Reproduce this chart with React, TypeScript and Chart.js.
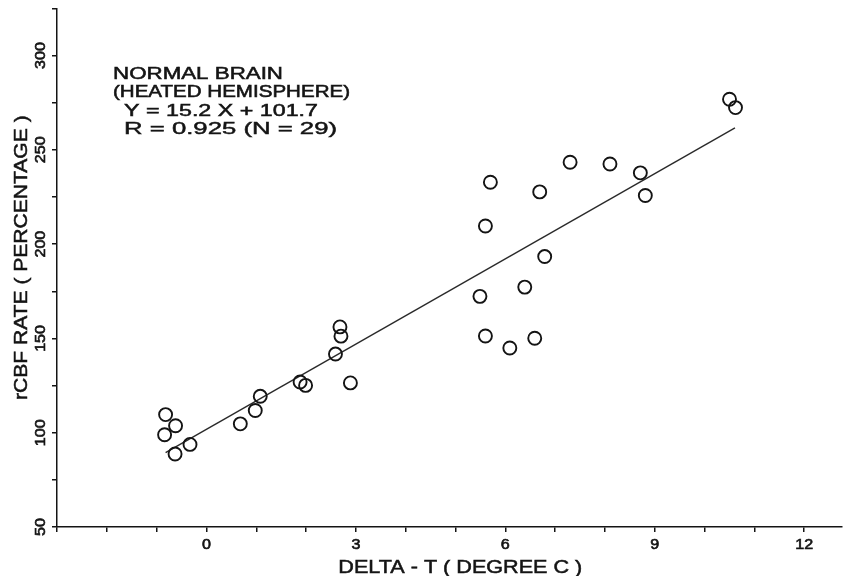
import React, { useEffect, useRef } from "react";
import { Chart, registerables } from "chart.js";

Chart.register(...registerables);

// Measured points (Delta-T in degree C, rCBF rate in percentage)
const deltaT: number[] = [
  -0.82, -0.84, -0.62, -0.63, -0.33, 0.68, 0.98, 1.08, 1.88, 1.99,
  2.59, 2.7, 2.68, 2.89, 5.49, 5.6, 5.6, 5.7, 6.09, 6.39,
  6.59, 6.69, 6.79, 7.3, 8.1, 8.71, 8.81, 10.5, 10.62,
];
const rcbf: number[] = [
  109.6, 98.9, 103.7, 88.7, 93.8, 104.7, 111.8, 119.3, 126.9, 125.1,
  141.7, 151.2, 156.1, 126.4, 172.3, 151.3, 209.6, 232.8, 144.9, 177.2,
  150.1, 227.7, 193.4, 243.4, 242.5, 237.8, 225.8, 276.8, 272.4,
];

// Regression line end points
const fitX: number[] = [-0.82, 10.61];
const fitY: number[] = [89.4, 261.7];

const xLabelTicks: number[] = [0, 3, 6, 9, 12];
const yLabelTicks: number[] = [50, 100, 150, 200, 250, 300];

const xTitle = "DELTA - T ( DEGREE C )";
const yTitle = "rCBF RATE ( PERCENTAGE )";
const noteLines: string[] = [
  "NORMAL BRAIN",
  "(HEATED HEMISPHERE)",
  "Y = 15.2 X + 101.7",
  "R = 0.925 (N = 29)",
];

const FAMILY = '"Liberation Sans", Arial, sans-serif';
const INK = "#141414";

function drawStretched(
  ctx: CanvasRenderingContext2D,
  text: string,
  x: number,
  y: number,
  size: number,
  sx: number,
  align: CanvasTextAlign,
  rotate: boolean,
  stroke: number,
  targetWidth?: number
) {
  ctx.save();
  ctx.font = `${size}px ${FAMILY}`;
  let k = sx;
  if (targetWidth) {
    const w = ctx.measureText(text).width;
    if (w > 0) k = targetWidth / w;
  }
  ctx.translate(x, y);
  if (rotate) ctx.rotate(-Math.PI / 2);
  ctx.scale(k, 1);
  ctx.textAlign = align;
  ctx.textBaseline = "alphabetic";
  ctx.fillStyle = INK;
  ctx.strokeStyle = INK;
  ctx.lineWidth = stroke / k;
  ctx.fillText(text, 0, 0);
  if (stroke > 0) ctx.strokeText(text, 0, 0);
  ctx.restore();
}

const textPlugin = {
  id: "textPlugin",
  afterDraw(chart: any) {
    const ctx: CanvasRenderingContext2D = chart.ctx;
    const xs = chart.scales.x;
    const ys = chart.scales.y;
    const area = chart.chartArea;

    xLabelTicks.forEach((v) => {
      const px = xs.getPixelForValue(v);
      drawStretched(ctx, String(v), px, area.bottom + 22, 14, 1.15, "center", false, 0.7);
    });
    yLabelTicks.forEach((v) => {
      const py = ys.getPixelForValue(v);
      drawStretched(ctx, String(v), area.left - 12, py, 14, 1.15, "center", true, 0.7);
    });

    drawStretched(ctx, xTitle, (area.left + area.right) / 2 + 11, area.bottom + 45.5, 18, 1.2, "center", false, 0.6);
    drawStretched(ctx, yTitle, area.left - 30, (area.top + area.bottom) / 2 - 10, 18, 1.17, "center", true, 0.6);

    const lefts = [56, 56, 67, 67];
    const bases = [71, 89, 107.5, 126];
    const widths = [170, 237, 194, 213];
    noteLines.forEach((t, i) => {
      drawStretched(ctx, t, area.left + lefts[i], area.top + bases[i], 17, 1.25, "left", false, 0.7, widths[i]);
    });
  },
};

export default function App() {
  const ref = useRef<HTMLCanvasElement | null>(null);

  useEffect(() => {
    if (!ref.current) return;
    const points = deltaT.map((x, i) => ({ x, y: rcbf[i] }));
    const fit = fitX.map((x, i) => ({ x, y: fitY[i] }));

    const axisCommon = {
      type: "linear" as const,
      grid: {
        display: true,
        drawOnChartArea: false,
        drawTicks: true,
        tickLength: 5,
        color: INK,
        lineWidth: 1.5,
      },
      border: { display: true, color: INK, width: 1.5 },
      title: { display: false },
    };

    const chart = new Chart(ref.current, {
      type: "scatter",
      data: {
        datasets: [
          {
            type: "line",
            data: fit,
            borderColor: "#2a2a2a",
            borderWidth: 1.4,
            pointRadius: 0,
            fill: false,
            order: 2,
          } as any,
          {
            type: "scatter",
            data: points,
            pointStyle: "circle",
            pointRadius: 6.5,
            borderWidth: 1.9,
            borderColor: INK,
            backgroundColor: "rgba(0,0,0,0)",
            order: 1,
          } as any,
        ],
      },
      options: {
        animation: false,
        responsive: true,
        maintainAspectRatio: false,
        layout: { padding: { top: 7, right: 5, left: 0, bottom: 0 } },
        plugins: {
          legend: { display: false },
          tooltip: { enabled: false },
        },
        scales: {
          x: {
            ...axisCommon,
            min: -3,
            max: 12.75,
            ticks: { display: false, stepSize: 1, includeBounds: false },
            afterFit: (s: any) => {
              s.height = 49;
            },
          },
          y: {
            ...axisCommon,
            min: 50,
            max: 325,
            ticks: { display: false, stepSize: 25, includeBounds: false },
            afterFit: (s: any) => {
              s.width = 57;
            },
          },
        },
      } as any,
      plugins: [textPlugin],
    });
    return () => chart.destroy();
  }, []);

  return (
    <div
      style={{
        position: "fixed",
        left: 0,
        top: 0,
        width: 850,
        height: 576,
        background: "#fff",
      }}
    >
      <canvas ref={ref} />
    </div>
  );
}
